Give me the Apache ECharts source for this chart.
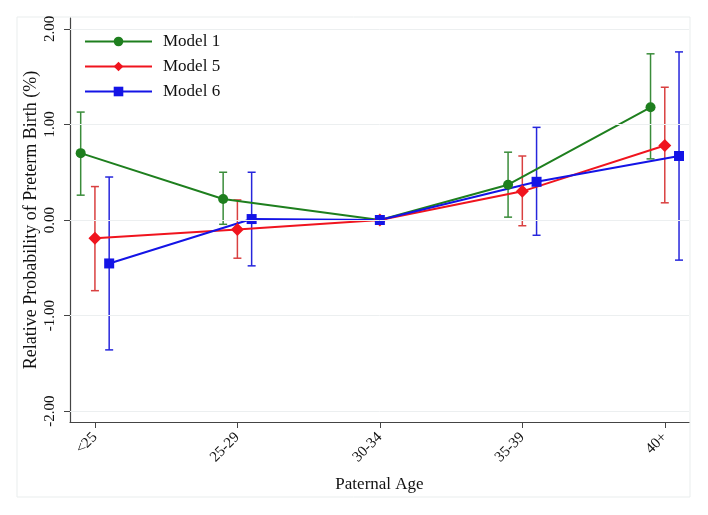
<!DOCTYPE html>
<html>
<head>
<meta charset="utf-8">
<script src="https://cdn.jsdelivr.net/npm/echarts@6/dist/echarts.min.js"></script>
<style>html,body{margin:0;padding:0;background:#fff}#c{width:708px;height:515px}</style>
</head>
<body>
<div id="c"></div>
<script>
// ---- data ----
var categories = ['<25', '25-29', '30-34', '35-39', '40+'];
var refIndex = 2; // reference category (30-34)
var yTicks = [-2, -1, 0, 1, 2];

var model1Est = [0.70, 0.22, 0.00, 0.37, 1.18];
var model1Lo  = [0.26, -0.045, 0.00, 0.03, 0.64];
var model1Hi  = [1.13, 0.50, 0.00, 0.71, 1.74];

var model5Est = [-0.19, -0.10, 0.00, 0.30, 0.78];
var model5Lo  = [-0.74, -0.40, 0.00, -0.06, 0.18];
var model5Hi  = [0.35, 0.21, 0.00, 0.67, 1.39];

var model6Est = [-0.455, 0.01, 0.00, 0.40, 0.67];
var model6Lo  = [-1.36, -0.48, 0.00, -0.16, -0.42];
var model6Hi  = [0.45, 0.50, 0.00, 0.97, 1.76];

// ---- styling ----
var FONT = 'Liberation Serif';
var models = [
  {name: 'Model 1', est: model1Est, lo: model1Lo, hi: model1Hi, shift: -0.1, color: '#1e7f1e', barColor: '#3a8c3a', symbol: 'circle', size: 10},
  {name: 'Model 5', est: model5Est, lo: model5Lo, hi: model5Hi, shift: 0, color: '#f0141e', barColor: '#d94040', symbol: 'diamond', size: 13},
  {name: 'Model 6', est: model6Est, lo: model6Lo, hi: model6Hi, shift: 0.1, color: '#1414e6', barColor: '#2626dc', symbol: 'rect', size: 10}
];

function xPos(i, shift) { return i === refIndex ? i : i + shift; }

var series = [];
// gridlines
series.push({
  type: 'line', data: [], silent: true,
  markLine: {
    silent: true, symbol: 'none', label: {show: false},
    lineStyle: {color: '#eceff0', width: 1, type: 'solid'},
    data: yTicks.map(function (v) { return {yAxis: v}; })
  }
});

models.forEach(function (m) {
  var bars = [];
  m.est.forEach(function (v, i) {
    if (m.hi[i] !== m.lo[i]) bars.push([xPos(i, m.shift), m.lo[i], m.hi[i]]);
  });
  series.push({
    type: 'custom', name: m.name + ' CI', z: 2, silent: true,
    data: bars,
    renderItem: function (params, api) {
      var top = api.coord([api.value(0), api.value(2)]);
      var bot = api.coord([api.value(0), api.value(1)]);
      var w = 4;
      var st = {stroke: m.barColor, lineWidth: 1.5};
      return {type: 'group', children: [
        {type: 'line', shape: {x1: top[0], y1: top[1], x2: bot[0], y2: bot[1]}, style: st},
        {type: 'line', shape: {x1: top[0] - w, y1: top[1], x2: top[0] + w, y2: top[1]}, style: st},
        {type: 'line', shape: {x1: bot[0] - w, y1: bot[1], x2: bot[0] + w, y2: bot[1]}, style: st}
      ]};
    }
  });
});

models.forEach(function (m) {
  series.push({
    type: 'line', name: m.name, z: 3,
    data: m.est.map(function (v, i) { return [xPos(i, m.shift), v]; }),
    symbol: m.symbol, symbolSize: m.size, showAllSymbol: true,
    itemStyle: {color: m.color},
    lineStyle: {color: m.color, width: 2},
    emphasis: {disabled: true}
  });
});

var chart = echarts.init(document.getElementById('c'), null, {renderer: 'canvas'});
chart.setOption({
  animation: false,
  backgroundColor: '#ffffff',
  graphic: [{
    type: 'rect', silent: true, z: -1,
    shape: {x: 17, y: 17, width: 673, height: 480},
    style: {fill: 'none', stroke: '#e9eded', lineWidth: 1}
  }],
  grid: {left: 70, right: 19, top: 18, bottom: 93, containLabel: false},
  legend: {
    data: models.map(function (m) { return m.name; }),
    orient: 'vertical', left: 79, top: 28,
    itemWidth: 67, itemHeight: 12, itemGap: 8,
    textStyle: {fontFamily: FONT, fontSize: 17, color: '#111', padding: [0, 0, 0, 6]},
    selectedMode: false
  },
  xAxis: {
    type: 'value', min: -0.175, max: 4.17,
    name: 'Paternal Age', nameLocation: 'middle', nameGap: 54, nameMoveOverlap: false,
    nameTextStyle: {fontFamily: FONT, fontSize: 17, color: '#111'},
    axisLine: {show: true, onZero: false, lineStyle: {color: '#444', width: 1.2}},
    axisTick: {show: true, length: 6, lineStyle: {color: '#444'}, customValues: [0, 1, 2, 3, 4]},
    axisLabel: {
      rotate: 45, margin: 13, fontFamily: FONT, fontSize: 15, color: '#111',
      customValues: [0, 1, 2, 3, 4],
      formatter: function (v) { return categories[Math.round(v)]; }
    },
    splitLine: {show: false}
  },
  yAxis: {
    type: 'value', min: -2.115, max: 2.115,
    name: 'Relative Probability of Preterm Birth (%)', nameLocation: 'middle', nameGap: 30, nameMoveOverlap: false,
    nameTextStyle: {fontFamily: FONT, fontSize: 18, color: '#111'},
    axisLine: {show: true, onZero: false, lineStyle: {color: '#444', width: 1.2}},
    axisTick: {show: true, length: 6, lineStyle: {color: '#444'}, customValues: yTicks},
    axisLabel: {
      rotate: 90, margin: 12, fontFamily: FONT, fontSize: 15, color: '#111',
      customValues: yTicks,
      formatter: function (v) { return v.toFixed(2); }
    },
    splitLine: {show: false}
  },
  series: series
});
</script>
</body>
</html>
